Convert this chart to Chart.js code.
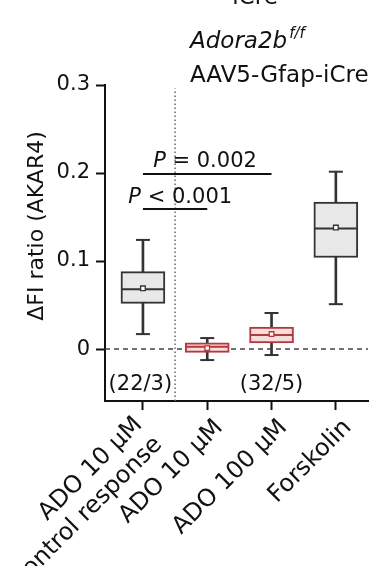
<!DOCTYPE html>
<html><head><meta charset="utf-8">
<script src="https://cdn.jsdelivr.net/npm/chart.js@4.4.1/dist/chart.umd.min.js"></script>
<style>html,body{margin:0;padding:0;background:#fff;} #wrap{width:377px;height:566px;position:relative;}</style>
</head><body><div id="wrap"><canvas id="c"></canvas></div>
<script>
// ---- data ----
const categories = [1, 2, 3, 4];
const categoryLabels = [['ADO 10 µM   ', 'Control response   '], 'ADO 10 µM', 'ADO 100 µM', 'Forskolin'];
const whiskerLow  = [0.017, -0.0125, -0.0068, 0.051];
const q1          = [0.052, -0.0037, 0.007, 0.104];
const median      = [0.068, 0.0026, 0.016, 0.137];
const q3          = [0.088, 0.007, 0.025, 0.167];
const whiskerHigh = [0.124, 0.0125, 0.041, 0.2015];
const means       = [0.069, 0.001, 0.017, 0.138];
const yTicks = [0, 0.1, 0.2, 0.3];
const sigFrom = [1, 1];
const sigTo = [3, 2];
const sigY = [0.199, 0.159];
const sigText = ['= 0.002', '< 0.001'];
const sigTextX = [1.965, 1.58];
const sigTextY = [0.2063, 0.1655];
const nLabels = ['(22/3)', '(32/5)'];
const nLabelX = [0.96, 3.0];
const nLabelY = -0.047;
const dividerX = 1.5;

// ---- styles ----
const FONT = "'DejaVu Sans', sans-serif";
const INK = '#111';
const isRed = [false, true, true, false];
const boxFill = isRed.map(r => r ? '#f7dede' : '#e8e8e8');
const boxLine = isRed.map(r => r ? '#b23a3c' : '#333');
const X_MIN = 0.41, X_MAX = 4.5, Y_MIN = -0.059, Y_MAX = 0.3;

const textPlugin = {
  id: 'texts',
  afterDraw(chart) {
    const { ctx } = chart;
    const x = chart.scales.x, y = chart.scales.y;
    ctx.save();
    ctx.fillStyle = INK;
    ctx.textBaseline = 'alphabetic';
    // header
    ctx.font = '23px ' + FONT;
    ctx.textAlign = 'center';
    ctx.fillText('iCre', 255, 4);
    ctx.textAlign = 'left';
    ctx.font = 'italic 23px ' + FONT;
    ctx.fillText('Adora2b', 190, 48);
    const w = ctx.measureText('Adora2b').width;
    ctx.font = 'italic 15px ' + FONT;
    ctx.fillText('f/f', 190 + w + 2, 38);
    ctx.font = '23px ' + FONT;
    ctx.fillText('AAV5-Gfap-iCre', 190, 82);
    // y title
    ctx.save();
    ctx.translate(43, 226);
    ctx.rotate(-Math.PI / 2);
    ctx.textAlign = 'center';
    ctx.font = '22px ' + FONT;
    ctx.fillText('ΔFI ratio (AKAR4)', 0, 0);
    ctx.restore();
    // P labels
    for (let i = 0; i < sigText.length; i++) {
      ctx.font = 'italic 21px ' + FONT;
      const wp = ctx.measureText('P').width;
      ctx.font = '21px ' + FONT;
      const wr = ctx.measureText(' ' + sigText[i]).width;
      const cx = x.getPixelForValue(sigTextX[i]);
      const by = y.getPixelForValue(sigTextY[i]);
      const sx = cx - (wp + wr) / 2;
      ctx.textAlign = 'left';
      ctx.font = 'italic 21px ' + FONT;
      ctx.fillText('P', sx, by);
      ctx.font = '21px ' + FONT;
      ctx.fillText(' ' + sigText[i], sx + wp, by);
    }
    // n labels
    ctx.font = '21px ' + FONT;
    ctx.textAlign = 'center';
    for (let i = 0; i < nLabels.length; i++) {
      ctx.fillText(nLabels[i], x.getPixelForValue(nLabelX[i]), y.getPixelForValue(nLabelY));
    }
    ctx.restore();
  }
};

const datasets = [
  { type: 'line', data: [{x: X_MIN, y: 0}, {x: X_MAX, y: 0}], borderColor: '#444', borderWidth: 1.5,
    borderDash: [5, 4], pointRadius: 0, order: 10 },
  { type: 'line', data: [{x: dividerX, y: Y_MIN}, {x: dividerX, y: 0.296}], borderColor: '#666', borderWidth: 1.5,
    borderDash: [1.5, 2.5], pointRadius: 0, order: 9 },
  { type: 'bar', data: categories.map((c, i) => ({x: c, y: [whiskerLow[i], whiskerHigh[i]]})),
    backgroundColor: '#333', barThickness: 2, grouped: false, order: 8 },
  { type: 'scatter', data: categories.flatMap((c, i) => [{x: c, y: whiskerLow[i]}, {x: c, y: whiskerHigh[i]}]),
    pointStyle: 'line', pointRadius: 7, borderColor: '#333', borderWidth: 2, order: 7 },
  { type: 'bar', data: categories.map((c, i) => ({x: c, y: [q1[i], q3[i]]})),
    backgroundColor: boxFill, borderColor: boxLine, borderWidth: 2, borderSkipped: false,
    barThickness: 44, grouped: false, order: 6 },
  { type: 'scatter', data: categories.map((c, i) => ({x: c, y: median[i]})),
    pointStyle: 'line', pointRadius: 21, borderColor: boxLine, borderWidth: 2, order: 5 },
  { type: 'scatter', data: categories.map((c, i) => ({x: c, y: means[i]})),
    pointStyle: 'rect', pointRadius: 3.3, backgroundColor: '#fff', borderColor: boxLine, borderWidth: 1.3, order: 4 },
];
for (let i = 0; i < sigFrom.length; i++) {
  datasets.push({ type: 'line', data: [{x: sigFrom[i], y: sigY[i]}, {x: sigTo[i], y: sigY[i]}],
    borderColor: INK, borderWidth: 2, pointRadius: 0, order: 3 });
}

new Chart(document.getElementById('c'), {
  type: 'bar',
  data: { datasets },
  options: {
    responsive: true, maintainAspectRatio: false, animation: false,
    layout: { autoPadding: false, padding: { left: 0, right: 9, top: 85, bottom: 0 } },
    plugins: { legend: { display: false }, tooltip: { enabled: false } },
    scales: {
      x: {
        type: 'linear', min: X_MIN, max: X_MAX, offset: false,
        afterBuildTicks: s => { s.ticks = categories.map(v => ({value: v})); },
        afterFit: s => { s.height = 165; s.paddingLeft = 0; s.paddingRight = 0; },
        grid: { display: true, offset: false, drawOnChartArea: false, drawTicks: true, tickLength: 9, tickWidth: 2, tickColor: INK },
        border: { display: true, color: INK, width: 2 },
        ticks: {
          autoSkip: false, minRotation: 45, maxRotation: 45, padding: -15, labelOffset: 12, color: INK,
          // two-line label sits one line higher than the single-line labels
          font: (c) => ({ family: FONT, size: 24,
            lineHeight: Array.isArray(categoryLabels[c.index]) ? 28 / 24 : 81.6 / 24 }),
          callback: v => categoryLabels[categories.indexOf(v)]
        }
      },
      y: {
        type: 'linear', min: Y_MIN, max: Y_MAX,
        afterBuildTicks: s => { s.ticks = yTicks.map(v => ({value: v})); },
        afterFit: s => { s.width = 105; },
        grid: { display: true, drawOnChartArea: false, drawTicks: true, tickLength: 9, tickWidth: 2, tickColor: INK },
        border: { display: true, color: INK, width: 2 },
        ticks: {
          padding: 6, color: INK, font: { family: FONT, size: 21 },
          callback: v => (v === 0 ? '0' : v.toFixed(1))
        }
      }
    }
  },
  plugins: [textPlugin]
});
</script>
</body></html>
